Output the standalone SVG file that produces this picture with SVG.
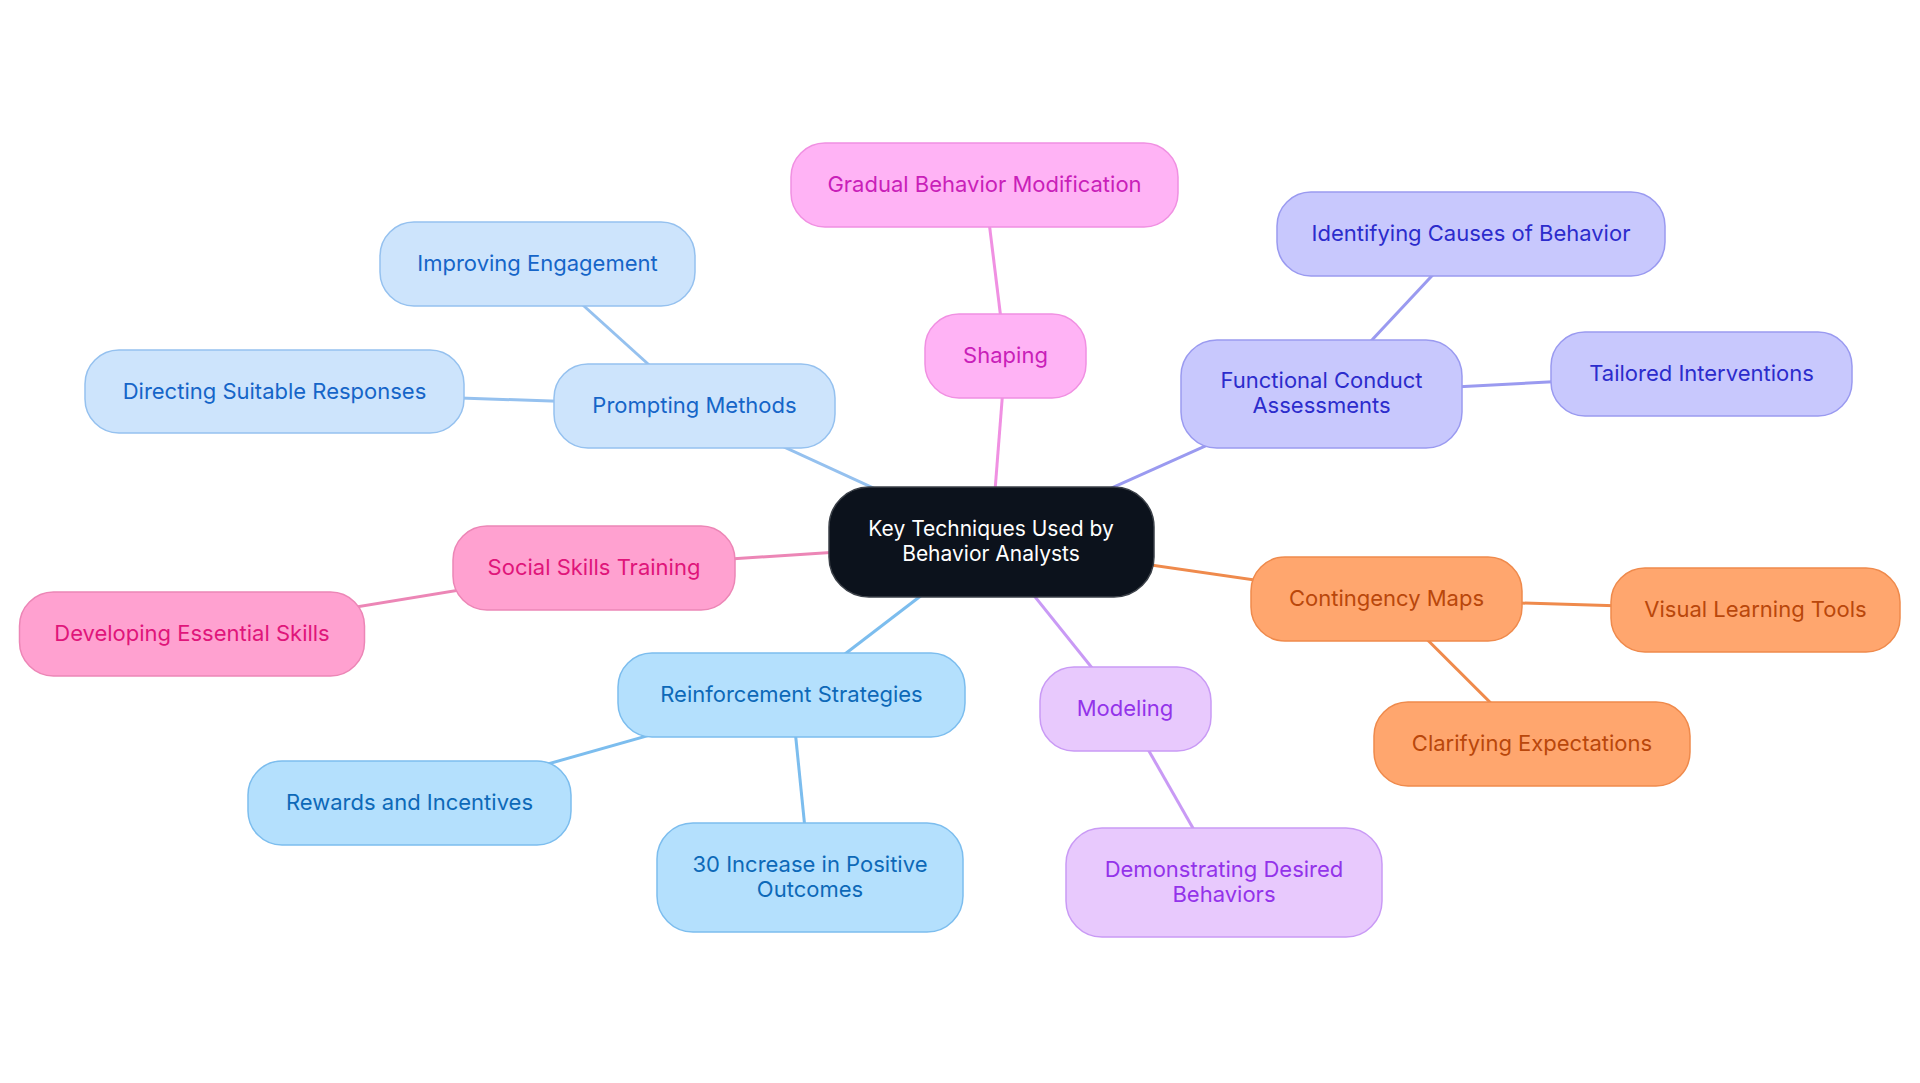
<svg xmlns="http://www.w3.org/2000/svg" width="1920" height="1083" viewBox="0 0 1920 1083">
<style>
text{font-family:Inter,"Noto Sans","Liberation Sans",sans-serif;font-size:22px;text-anchor:middle}
.c0 text{font-size:21px}
.e{stroke-width:3;fill:none}
.n rect{stroke-width:1.5}
.c0 rect{fill:#0c121c;stroke:#3b4048}.c0 text{fill:#ffffff}
.pk rect{fill:#ffb3f5;stroke:#f090e2}.pk text{fill:#c91fb9}
.in rect{fill:#c8c8fd;stroke:#9a9af0}.in text{fill:#2c2ccc}
.bl rect{fill:#cde4fc;stroke:#95c1ef}.bl text{fill:#1565c8}
.ro rect{fill:#ffa1d0;stroke:#ec86b6}.ro text{fill:#e0157a}
.sk rect{fill:#b4e0fd;stroke:#7cbdee}.sk text{fill:#0d69b8}
.pu rect{fill:#e8c9fd;stroke:#c99af5}.pu text{fill:#9333ea}
.or rect{fill:#ffa66e;stroke:#ef8a4c}.or text{fill:#b9470b}
</style>
<rect width="1920" height="1083" fill="#ffffff"/>
<g id="connectors">
<line class="e" stroke="#f090e2" x1="991" y1="542" x2="1005.5" y2="356"/>
<line class="e" stroke="#f090e2" x1="1005.5" y1="356" x2="984.5" y2="185"/>
<line class="e" stroke="#9a9af0" x1="991" y1="542" x2="1321.5" y2="394"/>
<line class="e" stroke="#9a9af0" x1="1321.5" y1="394" x2="1471" y2="234"/>
<line class="e" stroke="#9a9af0" x1="1321.5" y1="394" x2="1701.5" y2="374"/>
<line class="e" stroke="#95c1ef" x1="991" y1="542" x2="694.5" y2="406"/>
<line class="e" stroke="#95c1ef" x1="694.5" y1="406" x2="537.5" y2="264"/>
<line class="e" stroke="#95c1ef" x1="694.5" y1="406" x2="274.5" y2="391.5"/>
<line class="e" stroke="#ec86b6" x1="991" y1="542" x2="594" y2="568"/>
<line class="e" stroke="#ec86b6" x1="594" y1="568" x2="192" y2="634"/>
<line class="e" stroke="#7cbdee" x1="991" y1="542" x2="791.5" y2="695"/>
<line class="e" stroke="#7cbdee" x1="791.5" y1="695" x2="410" y2="803"/>
<line class="e" stroke="#7cbdee" x1="791.5" y1="695" x2="810" y2="878"/>
<line class="e" stroke="#c99af5" x1="991" y1="542" x2="1125" y2="709"/>
<line class="e" stroke="#c99af5" x1="1125" y1="709" x2="1224" y2="882.5"/>
<line class="e" stroke="#ef8a4c" x1="991" y1="542" x2="1386.5" y2="599"/>
<line class="e" stroke="#ef8a4c" x1="1386.5" y1="599" x2="1755.5" y2="610"/>
<line class="e" stroke="#ef8a4c" x1="1386.5" y1="599" x2="1532" y2="744"/>
</g>
<g id="root" class="n c0"><rect x="829" y="487" width="325" height="110" rx="40"/><text x="991" y="536">Key Techniques Used by</text><text x="991" y="561">Behavior Analysts</text></g>
<g id="shaping" class="n pk"><rect x="925" y="314" width="161" height="84" rx="34"/><text x="1005.5" y="363">Shaping</text></g>
<g id="gradual" class="n pk"><rect x="791" y="143" width="387" height="84" rx="34"/><text x="984.5" y="192">Gradual Behavior Modification</text></g>
<g id="functional" class="n in"><rect x="1181" y="340" width="281" height="108" rx="36"/><text x="1321.5" y="388">Functional Conduct</text><text x="1321.5" y="413">Assessments</text></g>
<g id="identifying" class="n in"><rect x="1277" y="192" width="388" height="84" rx="34"/><text x="1471" y="241">Identifying Causes of Behavior</text></g>
<g id="tailored" class="n in"><rect x="1551" y="332" width="301" height="84" rx="34"/><text x="1701.5" y="381">Tailored Interventions</text></g>
<g id="prompting" class="n bl"><rect x="554" y="364" width="281" height="84" rx="34"/><text x="694.5" y="413">Prompting Methods</text></g>
<g id="improving" class="n bl"><rect x="380" y="222" width="315" height="84" rx="34"/><text x="537.5" y="271">Improving Engagement</text></g>
<g id="directing" class="n bl"><rect x="85" y="350" width="379" height="83" rx="34"/><text x="274.5" y="398.5">Directing Suitable Responses</text></g>
<g id="social" class="n ro"><rect x="453" y="526" width="282" height="84" rx="34"/><text x="594" y="575">Social Skills Training</text></g>
<g id="developing" class="n ro"><rect x="19.5" y="592" width="345" height="84" rx="34"/><text x="192" y="641">Developing Essential Skills</text></g>
<g id="reinforcement" class="n sk"><rect x="618" y="653" width="347" height="84" rx="34"/><text x="791.5" y="702">Reinforcement Strategies</text></g>
<g id="rewards" class="n sk"><rect x="248" y="761" width="323" height="84" rx="34"/><text x="409.5" y="810">Rewards and Incentives</text></g>
<g id="increase" class="n sk"><rect x="657" y="823" width="306" height="109" rx="36"/><text x="810" y="872">30 Increase in Positive</text><text x="810" y="897">Outcomes</text></g>
<g id="modeling" class="n pu"><rect x="1040" y="667" width="171" height="84" rx="34"/><text x="1125" y="716">Modeling</text></g>
<g id="demonstrating" class="n pu"><rect x="1066" y="828" width="316" height="109" rx="36"/><text x="1224" y="877">Demonstrating Desired</text><text x="1224" y="902">Behaviors</text></g>
<g id="contingency" class="n or"><rect x="1251" y="557" width="271" height="84" rx="34"/><text x="1386.5" y="606">Contingency Maps</text></g>
<g id="visual" class="n or"><rect x="1611" y="568" width="289" height="84" rx="34"/><text x="1755.5" y="617">Visual Learning Tools</text></g>
<g id="clarifying" class="n or"><rect x="1374" y="702" width="316" height="84" rx="34"/><text x="1532" y="751">Clarifying Expectations</text></g>
</svg>
